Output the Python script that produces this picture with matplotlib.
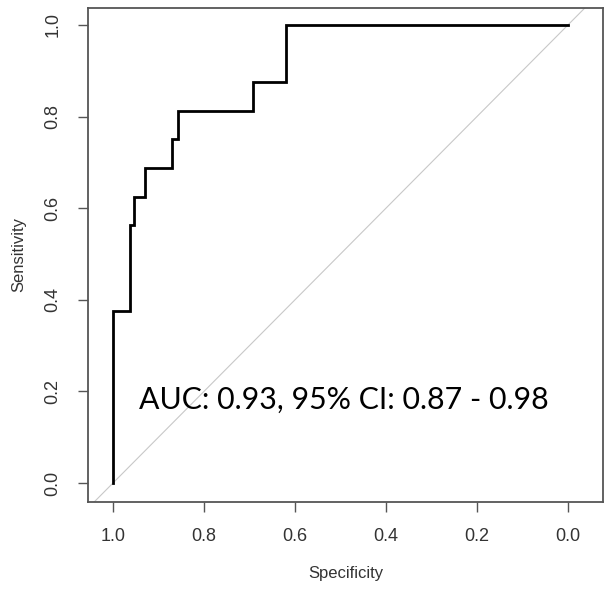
import matplotlib
matplotlib.use("Agg")
import matplotlib.pyplot as plt

# ROC curve corner points (specificity, sensitivity)
specificity = [1.0, 1.0, 0.963, 0.963, 0.954, 0.954, 0.930, 0.930, 0.870, 0.870,
               0.857, 0.857, 0.692, 0.692, 0.620, 0.620, 0.0]
sensitivity = [0.0, 0.375, 0.375, 0.5625, 0.5625, 0.625, 0.625, 0.6875, 0.6875, 0.75,
               0.75, 0.8125, 0.8125, 0.875, 0.875, 1.0, 1.0]
ticks = [1.0, 0.8, 0.6, 0.4, 0.2, 0.0]
tick_labels = ["1.0", "0.8", "0.6", "0.4", "0.2", "0.0"]
annotation = "AUC: 0.93, 95% CI: 0.87 - 0.98"

fig = plt.figure(figsize=(6.14, 5.89), dpi=100)
ax = fig.add_axes([88/614, 1-502/589, (603-88)/614, (502-8)/589])

ax.set_xlim(1.055, -0.077)
ax.set_ylim(-0.0415, 1.037)

ax.axline((1, 0), (0, 1), color="#c8c8c8", lw=0.8, zorder=1)
ax.plot(specificity, sensitivity, color="black", lw=2.0, zorder=3,
        solid_joinstyle="miter")

ax.text(0.492, 0.181, annotation, fontsize=21.8, family="Lato", color="black",
        ha="center", va="center")

ax.set_xticks(ticks)
ax.set_xticklabels(tick_labels)
ax.set_yticks(ticks)
ax.set_yticklabels(tick_labels, rotation=90, va="center")
for lab in ax.get_xticklabels() + ax.get_yticklabels():
    lab.set_family("Liberation Sans")
    lab.set_fontsize(13)
    lab.set_color("#333333")
ax.tick_params(axis="both", direction="out", length=7, width=1, color="#555555", pad=12)

for s in ax.spines.values():
    s.set_color("#555555")
    s.set_linewidth(1.3)

ax.set_xlabel("Specificity", family="Liberation Sans", fontsize=12, color="#333333", labelpad=15)
ax.set_ylabel("Sensitivity", family="Liberation Sans", fontsize=12, color="#333333", labelpad=13)

fig.savefig("out.png", dpi=100)
